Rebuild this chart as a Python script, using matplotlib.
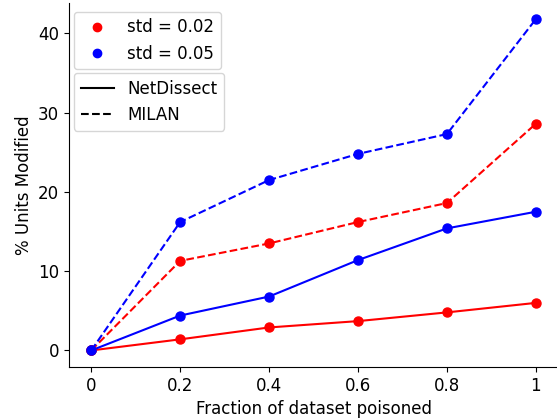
import matplotlib
matplotlib.use("Agg")
import matplotlib.pyplot as plt
from matplotlib.lines import Line2D

fractions = [0, 0.2, 0.4, 0.6, 0.8, 1]
tick_labels = ["0", "0.2", "0.4", "0.6", "0.8", "1"]
netdissect_002 = [0, 1.4, 2.9, 3.7, 4.8, 6.0]
netdissect_005 = [0, 4.4, 6.8, 11.4, 15.4, 17.5]
milan_002 = [0, 11.3, 13.5, 16.2, 18.6, 28.6]
milan_005 = [0, 16.2, 21.5, 24.8, 27.3, 41.8]

fs = 12
plt.rcParams['font.size'] = fs
fig = plt.figure(figsize=(5.57, 4.19), dpi=100)
ax = fig.add_axes([0.1239, 0.1241, 0.878, 0.8697])

ax.plot(fractions, netdissect_002, '-o', color='red', lw=1.5, ms=6.5)
ax.plot(fractions, netdissect_005, '-o', color='blue', lw=1.5, ms=6.5)
ax.plot(fractions, milan_002, '--o', color='red', lw=1.5, ms=6.5)
ax.plot(fractions, milan_005, '--o', color='blue', lw=1.5, ms=6.5)

ax.set_xticks(fractions)
ax.set_xticklabels(tick_labels)
ax.set_xlabel("Fraction of dataset poisoned")
ax.set_ylabel("% Units Modified")
ax.spines['top'].set_visible(False)
ax.spines['right'].set_visible(False)

h1 = [Line2D([], [], ls='none', marker='o', color='red'),
      Line2D([], [], ls='none', marker='o', color='blue')]
leg1 = ax.legend(h1, ["std = 0.02", "std = 0.05"], loc='upper left',
                 bbox_to_anchor=(0.0102, 0.975), borderaxespad=0)
ax.add_artist(leg1)
h2 = [Line2D([], [], ls='-', color='black'),
      Line2D([], [], ls='--', color='black')]
ax.legend(h2, ["NetDissect", "MILAN"], loc='upper left',
          bbox_to_anchor=(0.0102, 0.807), borderaxespad=0)

fig.savefig("out.png", dpi=100)
